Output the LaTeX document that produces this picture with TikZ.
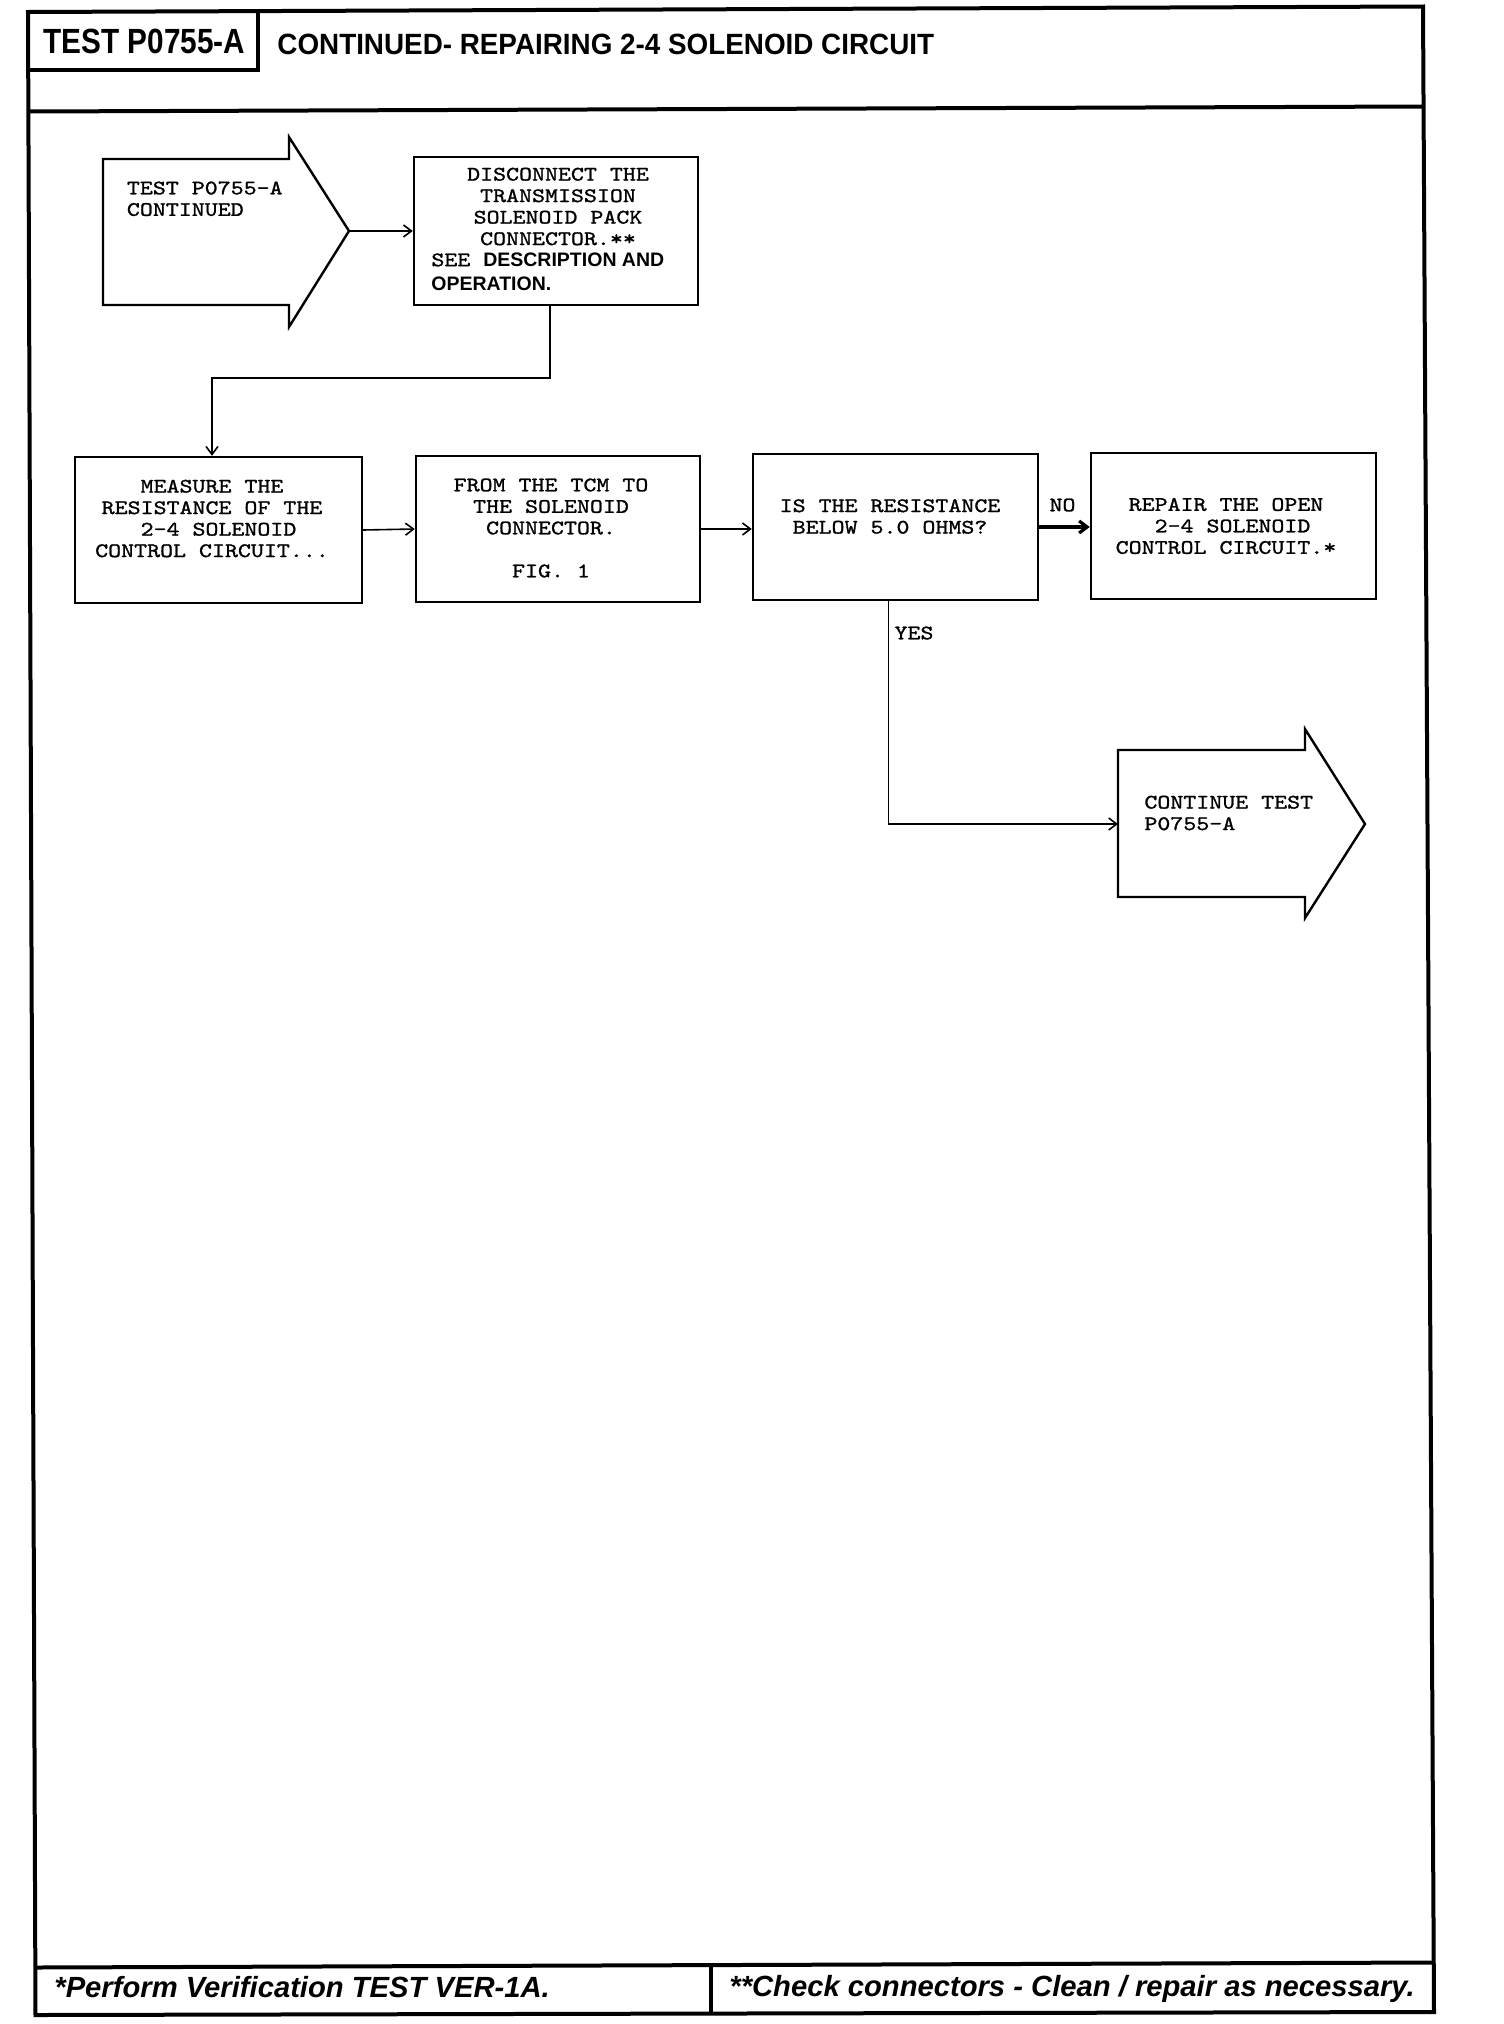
\documentclass[tikz,border=0pt]{standalone}
\usepackage{fontspec}
\usepackage{graphicx}
\setmainfont{Liberation Sans}
\newfontfamily\monof{lmmono10-regular.otf}[FakeStretch=1.2,FakeBold=1.2]
\newfontfamily\sansf{Liberation Sans}
\usetikzlibrary{arrows.meta}
\begin{document}
\begin{tikzpicture}[x=0.5pt,y=-0.5pt,
  frameline/.style={line width=2pt,line join=miter},
  flowbox/.style={draw,line width=1.2pt,inner sep=0pt,rectangle},
  arrowshape/.style={draw,line width=1.2pt,line join=miter},
  conn/.style={line width=0.8pt},
  arr/.style={conn,-{Straight Barb[length=4pt,width=6pt]}},
  monotxt/.style={font=\monof\fontsize{10.3pt}{10.75pt}\selectfont,inner sep=0pt,align=center},
  monoleft/.style={font=\monof\fontsize{10.3pt}{10.75pt}\selectfont,inner sep=0pt,align=left,anchor=west},
  foot/.style={font=\sansf\bfseries\itshape\fontsize{14.6pt}{16pt}\selectfont,inner sep=0pt,anchor=base west}
]
\useasboundingbox (0,0) rectangle (1504,2024);

% outer frame (slightly rotated scan)
\draw[frameline] (28,12) -- (1423,6.5) -- (1434,2012) -- (35.5,2015) -- cycle;
\draw[frameline] (28.3,111.5) -- (1423.5,106.5);
\draw[frameline] (258,11) -- (258,69.5) -- (28.2,69.5);
\draw[frameline] (35.3,1967.5) -- (1433.7,1962.5);
\draw[frameline] (711,1965) -- (711,2013.5);

% header texts
\node[inner sep=0pt,anchor=base west] (hdr) at (43,53)
  {\scalebox{0.85}[1]{\sansf\bfseries\fontsize{17.5pt}{20pt}\selectfont TEST P0755-A}};
\node[inner sep=0pt,anchor=base west] (title) at (277,54)
  {\scalebox{0.95}[1]{\sansf\bfseries\fontsize{14.65pt}{17pt}\selectfont CONTINUED- REPAIRING 2-4 SOLENOID CIRCUIT}};

% footer texts
\node[foot] (f1) at (54,1997) {*Perform Verification TEST VER-1A.};
\node[foot] (f2) at (729,1996) {**Check connectors - Clean / repair as necessary.};

% start arrow shape
\draw[arrowshape] (103,159) -- (289,159) -- (289,137) -- (349,231) -- (289,327) -- (289,305) -- (103,305) -- cycle;
\coordinate (a1tip) at (349,231);
\node[monoleft] (a1txt) at (126.5,198.75) {TEST P0755-A\\CONTINUED};

% end arrow shape
\draw[arrowshape] (1118,750) -- (1305,750) -- (1305,729) -- (1365,824) -- (1305,918) -- (1305,897) -- (1118,897) -- cycle;
\coordinate (a2in) at (1118,824);
\node[monoleft] (a2txt) at (1144,813) {CONTINUE TEST\\P0755-A};

% boxes
\node[flowbox,minimum width=142pt,minimum height=74pt] (disc) at (556,231) {};
\node[flowbox,minimum width=143.5pt,minimum height=73pt] (meas) at (218.5,530) {};
\node[flowbox,minimum width=142pt,minimum height=73pt] (from) at (558,529) {};
\node[flowbox,minimum width=142.5pt,minimum height=73pt] (isq) at (895.5,527) {};
\node[flowbox,minimum width=142.5pt,minimum height=73pt] (rep) at (1233.5,526) {};

% box texts
\node[monotxt] (disct) at (558,206.5) {DISCONNECT THE\\TRANSMISSION\\SOLENOID PACK\hspace*{-6.5pt}\\CONNECTOR.**};
\node[inner sep=0pt,align=left,anchor=west,font=\fontsize{10.8pt}{12.25pt}\selectfont] (disct2) at (431,271.75)
  {{\monof\fontsize{10.3pt}{12.25pt}\selectfont SEE }{\sansf\bfseries\fontsize{9.75pt}{12.25pt}\selectfont DESCRIPTION AND}\\{\sansf\bfseries\fontsize{9.75pt}{12.25pt}\selectfont OPERATION.}};
\node[monotxt] (meast) at (212,518.5) {MEASURE THE\\RESISTANCE OF THE\\\hspace*{6.5pt}2-4 SOLENOID\\CONTROL CIRCUIT...};
\node[monotxt] (fromt) at (551,528) {FROM THE TCM TO\\THE SOLENOID\\CONNECTOR.\\[10.75pt]FIG. 1};
\node[monotxt] (isqt) at (890,516.5) {IS THE RESISTANCE\\BELOW 5.0 OHMS?};
\node[monotxt] (rept) at (1226,526) {REPAIR THE OPEN\\\hspace*{6.5pt}2-4 SOLENOID\\CONTROL CIRCUIT.*};

% labels
\node[monotxt] (nolbl) at (1062.5,505) {NO};
\node[monotxt] (yeslbl) at (914,633) {YES};

% connectors
\draw[arr] (a1tip) -- (disc.west |- a1tip);
\coordinate (j1) at (550,378);
\coordinate (j2) at (212,378);
\draw[arr] (disc.south -| j1) -- (j1) -- (j2) -- (j2 |- meas.north);
\draw[arr] (meas.east) -- (from.west);
\draw[arr] (from.east) -- (from.east -| isq.west);
\draw[conn,line width=1.6pt,-{Straight Barb[length=4pt,width=6pt]}] (isq.east) -- (isq.east -| rep.west);
\coordinate (y1) at (888.5,824);
\draw[arr] (isq.south -| y1) -- (y1) -- (a2in);
\end{tikzpicture}
\end{document}
